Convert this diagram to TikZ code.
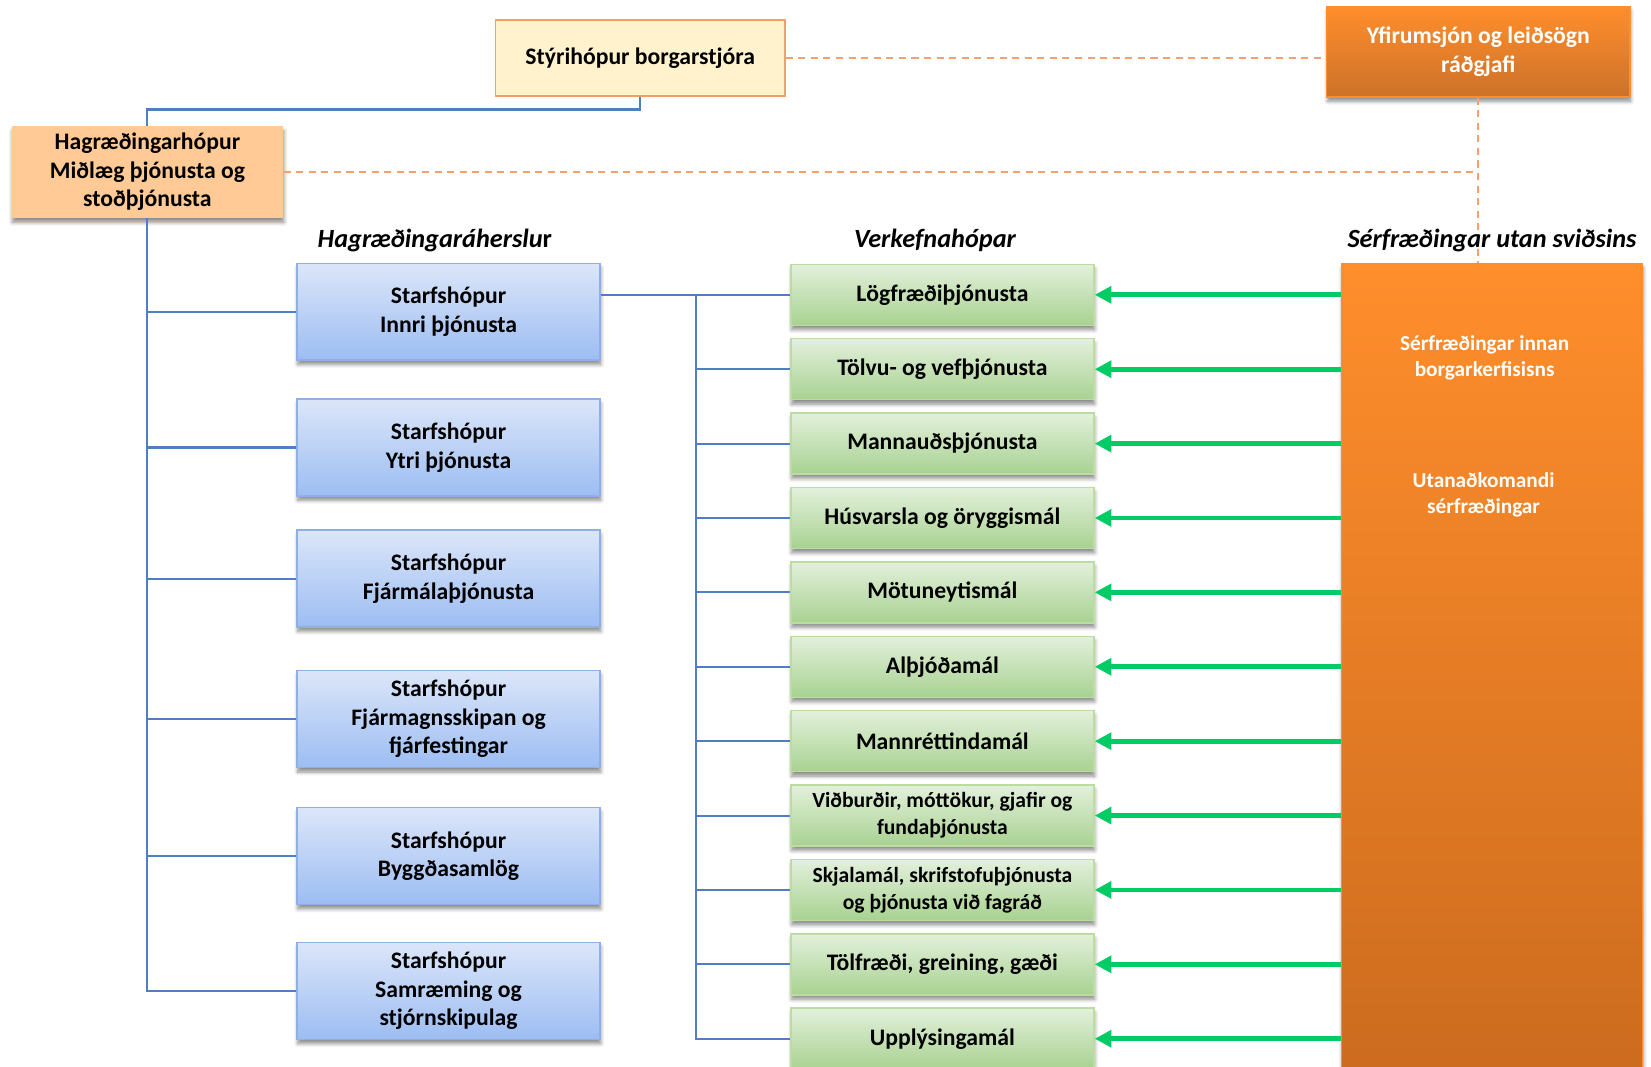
\documentclass[tikz,border=0pt]{standalone}
\usepackage{fontspec}
\setmainfont{Carlito}
\usetikzlibrary{shadows,shadows.blur,arrows.meta}
\definecolor{sgtop}{HTML}{DCE6F9}
\definecolor{sgbot}{HTML}{9CBDF2}
\definecolor{sgline}{HTML}{8FB0E3}
\definecolor{vhtop}{HTML}{E3F0DC}
\definecolor{vhbot}{HTML}{A8D290}
\definecolor{vhline}{HTML}{BBDDA2}
\definecolor{linblue}{HTML}{4F7FC0}
\definecolor{strikor}{HTML}{F5A070}
\definecolor{oergreen}{HTML}{00CC66}
\definecolor{ortop}{HTML}{FF8E2C}
\definecolor{orbot}{HTML}{CA6A1E}
\definecolor{hagfill}{HTML}{FFCA96}
\definecolor{styfill}{HTML}{FFF2CC}
\definecolor{styline}{HTML}{F0A068}
\begin{document}
\begin{tikzpicture}[x=0.02cm,y=-0.02cm,
  boks/.style={align=center,inner sep=2pt,font=\bfseries\fontsize{12.8}{15.4}\selectfont},
  skuggi/.style={blur shadow={shadow xshift=0.4pt,shadow yshift=-2.4pt,shadow blur radius=2pt,shadow blur steps=6,shadow blur extra rounding=0pt,shadow opacity=45}},
  sgbox/.style={boks,skuggi,draw=sgline,line width=0.8pt,top color=sgtop,bottom color=sgbot,minimum width=5.76cm,minimum height=1.84cm},
  vhbox/.style={boks,skuggi,draw=vhline,line width=0.8pt,top color=vhtop,bottom color=vhbot,minimum width=5.76cm,minimum height=1.16cm},
  vhn/.style={},
  vhs/.style={font=\bfseries\fontsize{11.7}{14.5}\selectfont},
  lina/.style={draw=linblue,line width=1.1pt},
  strik/.style={draw=strikor,line width=1pt,dash pattern=on 3.8pt off 3pt},
  oer/.style={draw=oergreen,line width=2.6pt,-{Triangle[length=9pt,width=9pt]}},
  titill/.style={font=\bfseries\itshape\fontsize{14.2}{17}\selectfont}]
\useasboundingbox (0,0) rectangle (1568,1013);
\clip (0,0) rectangle (1568,1013);
\node[boks,draw=styline,line width=0.8pt,fill=styfill,minimum width=5.5cm,minimum height=1.44cm] (styri) at (608,55) {Stýrihópur borgarstjóra};
\node[boks,skuggi,draw=ortop,line width=0.8pt,top color=ortop,bottom color=orbot!95,text=white,minimum width=5.76cm,minimum height=1.72cm] (yfir) at (1404,49) {Yfirumsjón og leiðsögn\\ráðgjafi};
\node[boks,skuggi,fill=hagfill,minimum width=5.16cm,minimum height=1.74cm] (hag) at (140,163.5) {Hagræðingarhópur\\Miðlæg þjónusta og\\stoðþjónusta};
\node[skuggi,draw=ortop,line width=0.8pt,top color=ortop,bottom color=orbot,minimum width=5.72cm,minimum height=16cm] (ex) at (1417,650) {};
\node[boks,text=white,font=\bfseries\fontsize{11.5}{13.9}\selectfont] (inn) at (1410,340) {Sérfræðingar innan\\borgarkerfisisns};
\node[boks,text=white,font=\bfseries\fontsize{11.5}{13.9}\selectfont] (uta) at (1409,470) {Utanaðkomandi\\sérfræðingar};
\foreach \i/\y/\t in {1/296/{Starfshópur\\Innri þjónusta},2/425/{Starfshópur\\Ytri þjónusta},3/549.5/{Starfshópur\\Fjármálaþjónusta},4/683/{Starfshópur\\Fjármagnsskipan og\\fjárfestingar},5/813/{Starfshópur\\Byggðasamlög},6/941/{Starfshópur\\Samræming og\\stjórnskipulag}}
  \node[sgbox] (sg\i) at (426,\y) {\t};
\foreach \i/\f/\t in {1/n/Lögfræðiþjónusta,2/n/Tölvu- og vefþjónusta,3/n/Mannauðsþjónusta,4/n/Húsvarsla og öryggismál,5/n/Mötuneytismál,6/n/Alþjóðamál,7/n/Mannréttindamál,8/s/{Viðburðir, móttökur, gjafir og\\fundaþjónusta},9/s/{Skjalamál, skrifstofuþjónusta\\og þjónusta við fagráð},10/n/{Tölfræði, greining, gæði},11/n/Upplýsingamál}
  \node[vhbox,vh\f] (vh\i) at (895,{280+70.65*(\i-1)}) {\t};
\coordinate (jn) at (140,104);
\coordinate (sp) at (661,279);
\draw[lina] (styri.south) |- (jn) -- (hag.north);
\draw[lina] (hag.south) |- (sg6.west);
\foreach \i in {1,...,5}
  \draw[lina] (hag.south |- sg\i.west) -- (sg\i.west);
\draw[lina] (sg1.east |- vh1.west) -- (vh1.west);
\draw[lina] (sp) |- (vh11.west);
\foreach \i in {2,...,10}
  \draw[lina] (sp |- vh\i.west) -- (vh\i.west);
\draw[strik] (styri.east) -- (styri.east -| yfir.west);
\draw[strik] (hag.east) -- (hag.east -| yfir.south);
\draw[strik] (yfir.south) -- (yfir.south |- ex.north);
\foreach \i in {1,...,11}
  \draw[oer] (ex.west |- vh\i.east) -- (vh\i.east);
\node[titill] (t1) at (413,228) {Hagræðingaráherslu\textup{r}};
\node[titill] (t2) at (888,228) {Verkefnahópar};
\node[titill] (t3) at (1417,228) {Sérfræðingar utan sviðsins};
\end{tikzpicture}
\end{document}
